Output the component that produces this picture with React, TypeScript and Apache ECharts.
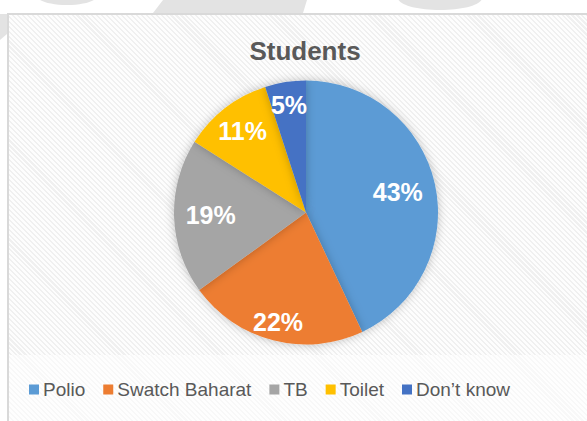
import React, { useEffect, useRef } from "react";
import * as echarts from "echarts";

const categories = ["Polio", "Swatch Baharat", "TB", "Toilet", "Don’t know"];
const values = [43, 22, 19, 11, 5];
const colors = ["#5B9BD5", "#ED7D31", "#A5A5A5", "#FFC000", "#4472C4"];
const chartTitle = "Students";

// layout: fraction of radius where each percentage label sits (Excel "best fit")
const labelRatio = [0.69, 0.83, 0.7, 0.76, 0.8];

export default function App() {
  const ref = useRef<HTMLDivElement>(null);
  useEffect(() => {
    if (!ref.current) return;
    const chart = echarts.init(ref.current, null, { renderer: "svg" });
    const R = 132;
    const center = [306, 212.5];
    const data = categories.map((name, i) => ({
      name,
      value: values[i],
      itemStyle: { color: colors[i] },
    }));
    const labelSeries = categories.map((_, k) => ({
      type: "pie",
      silent: true,
      center,
      radius: [Math.max(0, (2 * labelRatio[k] - 1) * R), R],
      startAngle: 90,
      clockwise: true,
      z: 5,
      legendHoverLink: false,
      itemStyle: { color: "transparent", borderWidth: 0 },
      labelLine: { show: false },
      data: categories.map((name, i) => ({
        name,
        value: values[i],
        itemStyle: { color: "transparent" },
        label: {
          show: i === k,
          position: "inside",
          formatter: "{c}%",
          color: "#ffffff",
          fontFamily: "Liberation Sans, Arial, sans-serif",
          fontWeight: "bold",
          fontSize: 25,
        },
      })),
    }));
    chart.setOption({
      animation: false,
      backgroundColor: "transparent",
      title: {
        text: chartTitle,
        left: 305,
        top: 38,
        padding: 0,
        textAlign: "center",
        textStyle: {
          color: "#595959",
          fontFamily: "Liberation Sans, Arial, sans-serif",
          fontWeight: "bold",
          fontSize: 26,
        },
      },
      legend: {
        data: categories,
        left: 29,
        top: 380,
        padding: 0,
        icon: "rect",
        itemWidth: 10,
        itemHeight: 10,
        itemGap: 18,
        selectedMode: false,
        textStyle: {
          color: "#595959",
          fontFamily: "Liberation Sans, Arial, sans-serif",
          fontSize: 19,
          padding: [0, 0, 0, -1],
        },
      },
      graphic: [
        { type: "polygon", z: -10, shape: { points: [[163, 0], [307, 0], [303, 13], [153, 13]] }, style: { fill: "#e3e3e3" } },
        { type: "ellipse", z: -10, shape: { cx: 67, cy: -4, rx: 30, ry: 9 }, style: { fill: "#e3e3e3" } },
        { type: "ellipse", z: -10, shape: { cx: 440, cy: -2, rx: 42, ry: 12 }, style: { fill: "#e3e3e3" } },
        { type: "polygon", z: -10, shape: { points: [[0, 14], [7, 14], [7, 34], [0, 40]] }, style: { fill: "#e3e3e3" } },
      ],
      series: [
        {
          type: "pie",
          center,
          radius: [0, R],
          startAngle: 90,
          clockwise: true,
          silent: true,
          label: { show: false },
          labelLine: { show: false },
          itemStyle: {
            borderWidth: 0,
            shadowBlur: 10,
            shadowColor: "rgba(0,0,0,0.25)",
          },
          data,
        },
        ...labelSeries,
      ],
    });
    return () => chart.dispose();
  }, []);

  return (
    <div
      style={{
        position: "fixed",
        left: 0,
        top: 0,
        width: 587,
        height: 421,
        background: "#ffffff",
        overflow: "hidden",
      }}
    >
      <div
        style={{
          position: "absolute",
          left: 7,
          top: 13,
          width: 600,
          height: 420,
          border: "2px solid #d9d9d9",
          boxSizing: "border-box",
          background:
            "repeating-linear-gradient(45deg, #fdfdfd 0px, #fdfdfd 2px, #f0f0f0 2px, #f0f0f0 3.5px)",
        }}
      />
      <div
        style={{
          position: "absolute",
          left: 9,
          top: 355,
          width: 600,
          height: 80,
          background:
            "repeating-linear-gradient(45deg, #fefefe 0px, #fefefe 2px, #f8f8f8 2px, #f8f8f8 3.5px)",
        }}
      />
      <div
        ref={ref}
        style={{ position: "absolute", left: 0, top: 0, width: 587, height: 421 }}
      />
    </div>
  );
}
